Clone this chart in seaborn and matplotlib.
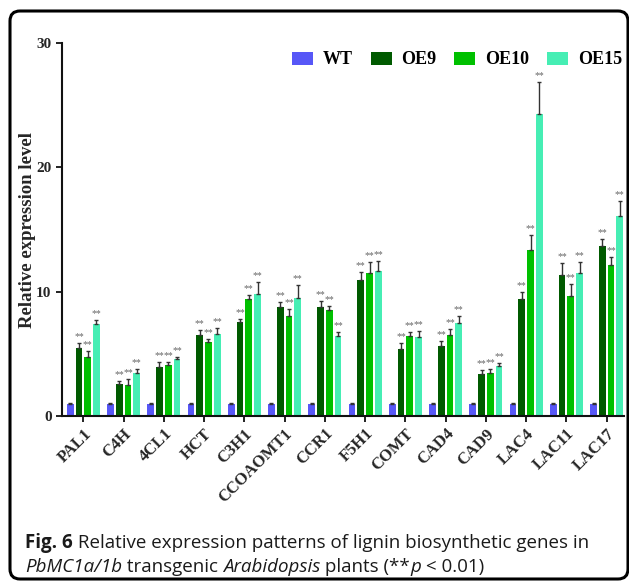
import numpy as np
import pandas as pd
import matplotlib
matplotlib.use("Agg")
import matplotlib.pyplot as plt
from matplotlib.patches import FancyBboxPatch, Rectangle
from matplotlib.colors import to_rgba
import seaborn as sns

genes = ["PAL1", "C4H", "4CL1", "HCT", "C3H1", "CCOAOMT1", "CCR1", "F5H1",
         "COMT", "CAD4", "CAD9", "LAC4", "LAC11", "LAC17"]
lines = ["WT", "OE9", "OE10", "OE15"]

wt = [1.0] * 14
wt_err = [0.06] * 14
oe9 = [5.49, 2.60, 3.96, 6.53, 7.58, 8.73, 8.76, 10.90, 5.38, 5.60, 3.40, 9.42, 11.33, 13.65]
oe9_err = [0.40, 0.21, 0.35, 0.38, 0.24, 0.43, 0.50, 0.72, 0.46, 0.42, 0.29, 0.54, 1.01, 0.59]
oe10 = [4.71, 2.49, 4.12, 5.94, 9.37, 8.03, 8.49, 11.49, 6.40, 6.51, 3.45, 13.39, 9.64, 12.13]
oe10_err = [0.54, 0.48, 0.22, 0.24, 0.40, 0.59, 0.35, 0.86, 0.35, 0.45, 0.35, 1.15, 0.94, 0.67]
oe15 = [7.42, 3.45, 4.55, 6.59, 9.85, 9.53, 6.40, 11.70, 6.35, 7.52, 3.99, 24.31, 11.54, 16.06]
oe15_err = [0.34, 0.33, 0.22, 0.50, 0.94, 1.02, 0.35, 0.75, 0.45, 0.54, 0.29, 2.52, 0.86, 1.26]

colors = ["#5757f7", "#005a00", "#00c000", "#46eeb4"]

values = [wt, oe9, oe10, oe15]
errors = [wt_err, oe9_err, oe10_err, oe15_err]
stars = [False, True, True, True]

df = pd.DataFrame({
    "gene": np.tile(genes, 4),
    "line": np.repeat(lines, len(genes)),
    "value": np.concatenate(values),
})

sns.set_style("ticks")
W, H = 629, 581
fig = plt.figure(figsize=(W / 100, H / 100), dpi=100)
ax = fig.add_axes([62 / W, 1 - 416 / H, (624 - 62) / W, (416 - 43) / H])

serif = "Liberation Serif"

sns.barplot(data=df, x="gene", y="value", hue="line", order=genes, hue_order=lines,
            palette=colors, saturation=1, width=0.87, gap=0.22, errorbar=None, ax=ax,
            linewidth=0)

# collect bars drawn by seaborn, grouped by hue colour
rgba = [np.array(to_rgba(c)) for c in colors]
bars = {i: [] for i in range(4)}
for p in ax.patches:
    if not isinstance(p, Rectangle) or p.get_height() <= 0:
        continue
    fc = np.array(p.get_facecolor())
    d = [np.abs(fc - c).sum() for c in rgba]
    hi = int(np.argmin(d))
    if d[hi] > 0.05:
        continue
    bars[hi].append(p)

for ci in range(4):
    bl = sorted(bars[ci], key=lambda r: r.get_x())
    xs = np.array([r.get_x() + r.get_width() / 2 for r in bl])
    hs = np.array([r.get_height() for r in bl])
    gi = np.round(xs).astype(int)
    err = np.array(errors[ci])[gi]
    ax.errorbar(xs, hs, yerr=[np.zeros_like(err), err], fmt="none", ecolor="#333333",
                elinewidth=1.0, capsize=1.2, capthick=1.0, zorder=3)
    if stars[ci]:
        for x, h, e in zip(xs, hs, err):
            ax.text(x, h + e + 0.15, "**", ha="center", va="bottom", fontsize=7,
                    color="#666666", family=serif)

ax.set_ylim(0, 30)
ax.set_xlim(-0.53, 13.43)
ax.set_yticks([0, 10, 20, 30])
ax.set_ylabel("Relative expression level", family=serif, fontweight="bold", fontsize=13.5)
ax.yaxis.set_label_coords(-0.047, 0.5)
ax.set_xlabel("")
for s in ["top", "right"]:
    ax.spines[s].set_visible(False)
for s in ["left", "bottom"]:
    ax.spines[s].set_linewidth(1.5)
    ax.spines[s].set_color("#111111")
ax.tick_params(axis="both", length=4, width=1.3, color="#111111")
ax.tick_params(axis="x", pad=3)
ax.set_xticks(range(len(genes)))
ax.set_xticklabels(genes, rotation=45, ha="right", rotation_mode="anchor",
                   family=serif, fontweight="bold", fontsize=12)
for lab in ax.get_yticklabels():
    lab.set_family(serif)
    lab.set_fontweight("bold")
    lab.set_fontsize(11)

sns.move_legend(ax, "center right", bbox_to_anchor=(622 / W, 1 - 60 / H),
                bbox_transform=fig.transFigure, ncol=4, frameon=False, title=None,
                prop={"family": serif, "weight": "bold", "size": 13},
                handlelength=1.17, handleheight=0.72, handletextpad=0.55,
                columnspacing=0.97, borderpad=0, borderaxespad=0)
leg = ax.get_legend()
for t in leg.get_texts():
    t.set_fontfamily(serif)
    t.set_fontweight("bold")
    t.set_fontsize(13)
    t.set_color("black")

# rounded frame
frame = FancyBboxPatch((10, H - 579), 618, 579 - 11,
                       boxstyle="round,pad=0,rounding_size=10",
                       transform=None, fill=False, lw=2.2, ec="black", zorder=10)
fig.patches.append(frame)

# caption
cap_font = "Open Sans"
cap_size = 13.5
renderer = fig.canvas.get_renderer()


def draw_pieces(pieces, x0, ybase):
    x = x0
    for txt, weight, style in pieces:
        t = fig.text(x / W, 1 - ybase / H, txt, family=cap_font, fontsize=cap_size,
                     fontweight=weight, fontstyle=style, va="baseline", ha="left",
                     color="#1a1a1a")
        x += t.get_window_extent(renderer).width


draw_pieces([("Fig. 6", "bold", "normal"),
             (" Relative expression patterns of lignin biosynthetic genes in", "normal", "normal")],
            25, 548)
draw_pieces([("PbMC1a/1b", "normal", "italic"),
             (" transgenic ", "normal", "normal"),
             ("Arabidopsis", "normal", "italic"),
             (" plants (**", "normal", "normal"),
             ("p", "normal", "italic"),
             (" < 0.01)", "normal", "normal")],
            25, 572)

fig.savefig("out.png", dpi=100)
